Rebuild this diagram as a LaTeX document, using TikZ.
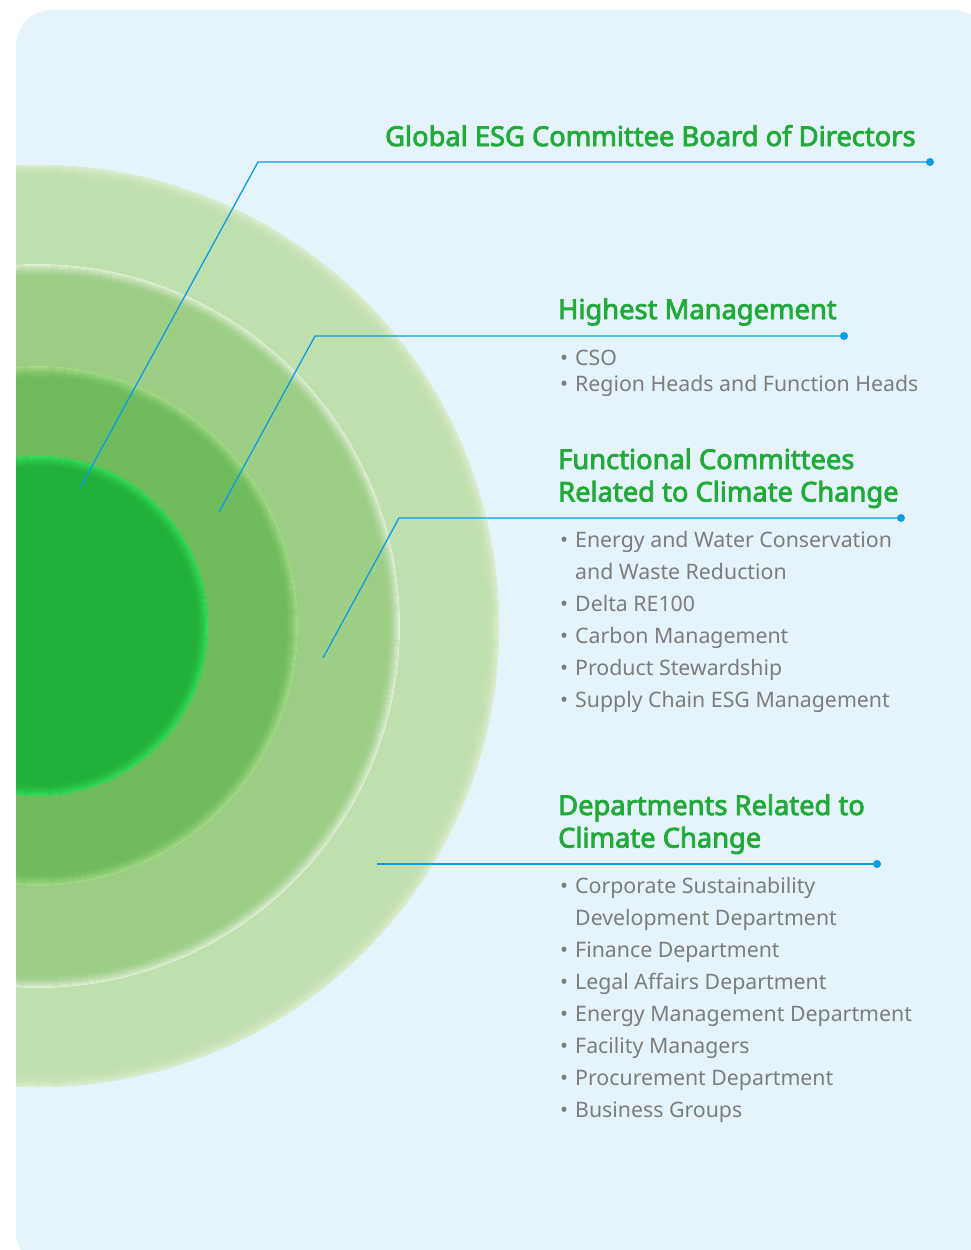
\documentclass[tikz,border=0pt]{standalone}
\usepackage{fontspec}
\setmainfont{Noto Sans}[AutoFakeBold=3]
\usepackage{tikz}
\definecolor{panel}{HTML}{E4F3FC}
\definecolor{ringA}{HTML}{C0DFAF}
\definecolor{rimA}{HTML}{DDEDCF}
\definecolor{ringB}{HTML}{9DCE86}
\definecolor{rimB}{HTML}{E2EFD8}
\definecolor{ringC}{HTML}{6FBB5D}
\definecolor{rimC}{HTML}{A6DC8A}
\definecolor{core}{HTML}{22AF3A}
\definecolor{coreRim}{HTML}{33DE5B}
\definecolor{leaderblue}{HTML}{0A9DE6}
\definecolor{headgreen}{HTML}{22AA3A}
\definecolor{itemgray}{HTML}{7D7D7D}
\newcommand{\stack}[1]{\begin{tabular}[t]{@{}l@{}}#1\end{tabular}}
\newcommand{\bul}{\makebox[15pt][l]{\textbullet}}
\newcommand{\cont}{\hspace*{15pt}}

\begin{document}
\begin{tikzpicture}[x=1pt,y=-1pt,
  head/.style={anchor=base west, inner sep=0pt, text=headgreen,
               font=\fontsize{27.3}{32.5}\selectfont\bfseries},
  items/.style={anchor=base west, inner sep=0pt, text=itemgray,
               font=\fontsize{21.3}{32}\selectfont},
  leader/.style={draw=leaderblue, line width=1.3pt},
  tip/.style={circle, fill=leaderblue, inner sep=0pt, minimum size=8pt}]
  \useasboundingbox (0,0) rectangle (971,1250);
  \fill[panel, rounded corners=36pt] (16,10) rectangle (989,1268);
  % rings with a soft rim
  \begin{scope}
    \clip[rounded corners=36pt] (16,10) rectangle (989,1268);
    \foreach \r/\base/\rim in {461/ringA/rimA, 362/ringB/rimB, 260/ringC/rimC, 170/core/coreRim} {
      \fill[\base] (38,626) circle[radius=\r pt];
      \foreach \k in {0,...,13} {
        \pgfmathtruncatemacro{\w}{100*(1-\k/14)^2}
        \draw[\rim!\w!\base, line width=1.2pt] (38,626) circle[radius=\r pt-\k pt-0.6pt];
      }
    }
  \end{scope}
  % headings and lists
  \node[head] (gHead) at (385,146) {Global ESG Committee Board of Directors};
  \node[head] (hHead) at (558,319) {Highest Management};
  \node[items, font=\fontsize{21.3}{26}\selectfont] (hList) at (560,365)
    {\stack{\bul CSO\\ \bul Region Heads and Function Heads}};
  \node[head] (fHead) at (558,469) {\stack{Functional Committees\\ Related to Climate Change}};
  \node[items] (fList) at (560,547)
    {\stack{\bul Energy and Water Conservation\\ \cont and Waste Reduction\\ \bul Delta RE100\\
     \bul Carbon Management\\ \bul Product Stewardship\\ \bul Supply Chain ESG Management}};
  \node[head] (dHead) at (558,815) {\stack{Departments Related to\\ Climate Change}};
  \node[items] (dList) at (560,893)
    {\stack{\bul Corporate Sustainability\\ \cont Development Department\\ \bul Finance Department\\
     \bul Legal Affairs Department\\ \bul Energy Management Department\\ \bul Facility Managers\\
     \bul Procurement Department\\ \bul Business Groups}};
  % leaders
  \coordinate (g0) at (80,488);
  \coordinate (g1) at (258,162);
  \node[tip] (gTip) at (930,162) {};
  \coordinate (h0) at (219,512);
  \coordinate (h1) at (315,336);
  \node[tip] (hTip) at (844,336) {};
  \coordinate (f0) at (323,658);
  \coordinate (f1) at (399,518);
  \node[tip] (fTip) at (901,518) {};
  \coordinate (d0) at (377,864);
  \node[tip] (dTip) at (877,864) {};
  \draw[leader] (g0) -- (g1) -- (gTip.center);
  \draw[leader] (h0) -- (h1) -- (hTip.center);
  \draw[leader] (f0) -- (f1) -- (fTip.center);
  \draw[leader] (d0) -- (dTip.center);
\end{tikzpicture}
\end{document}
